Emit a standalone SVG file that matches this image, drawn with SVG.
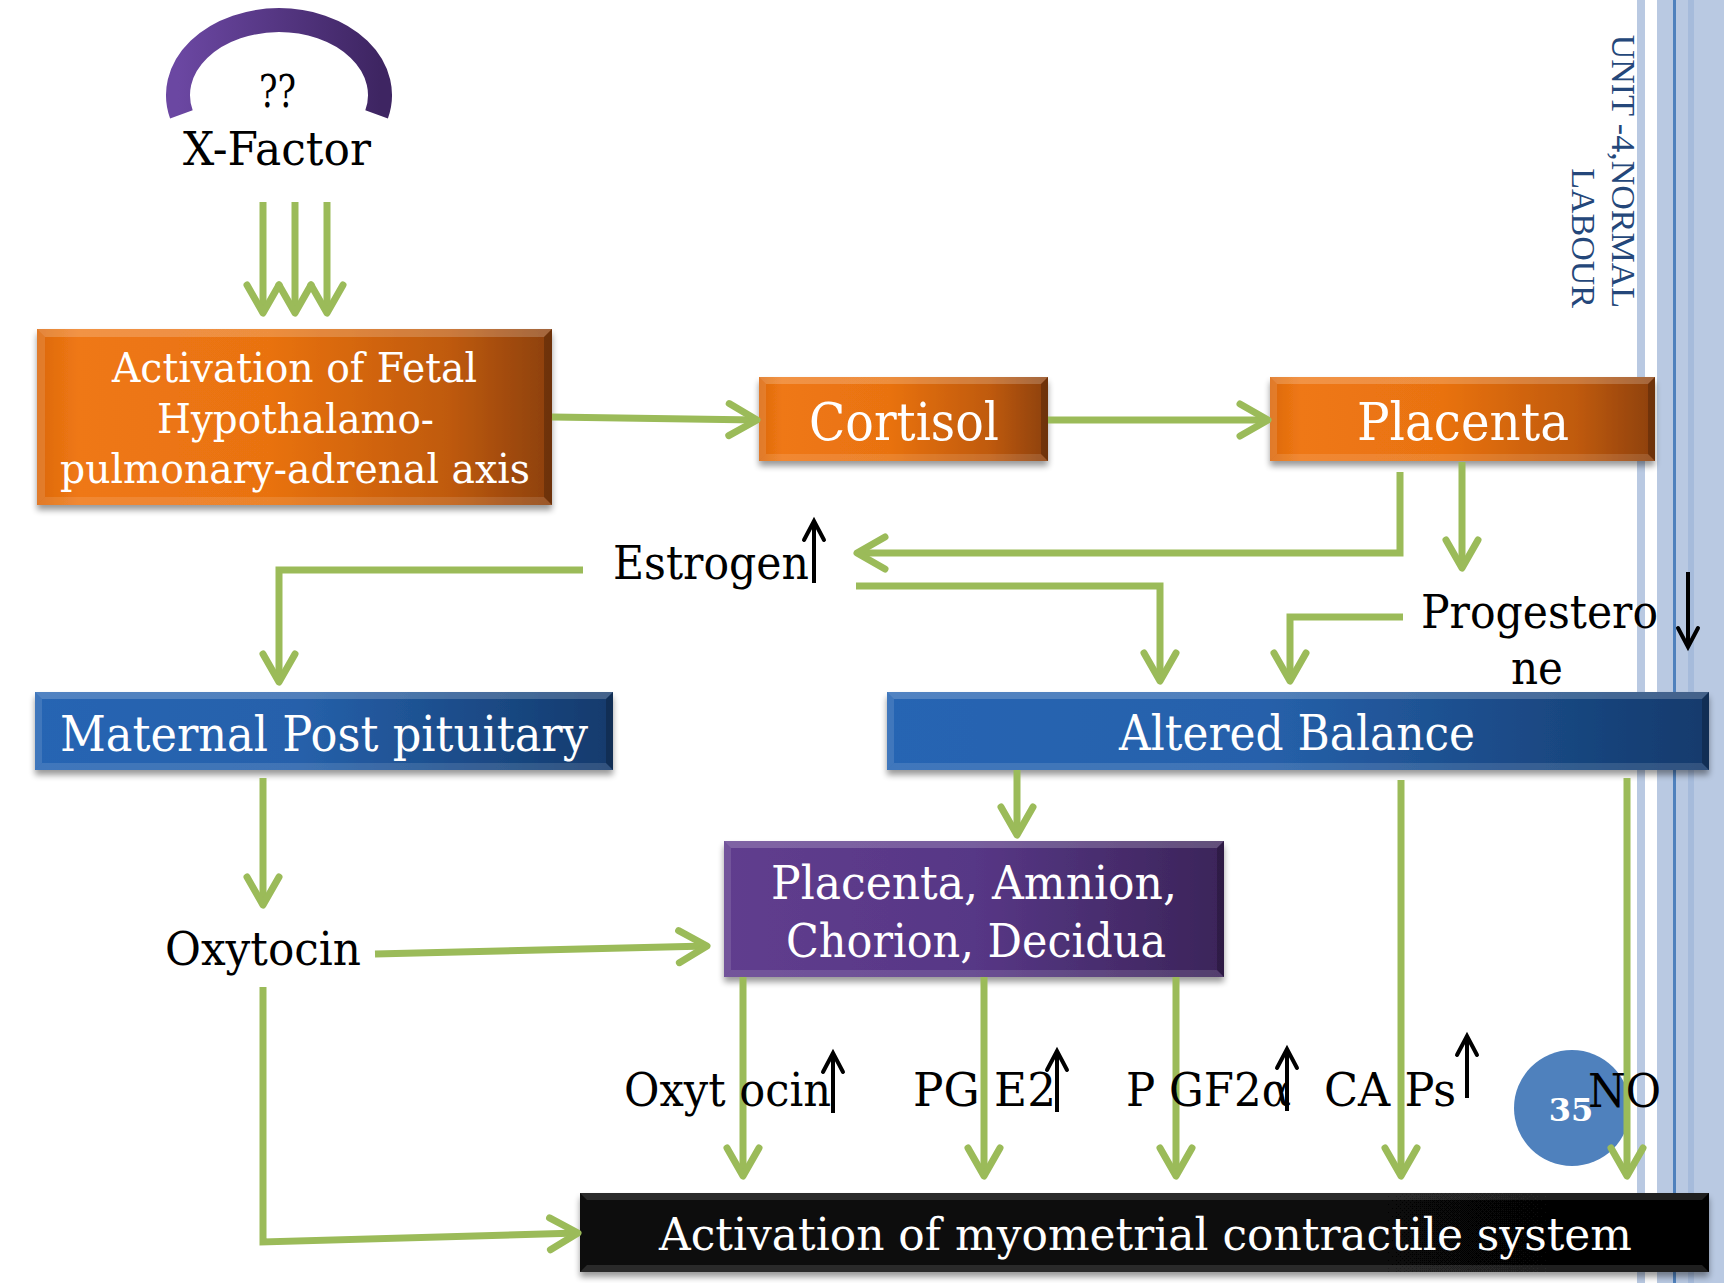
<svg xmlns="http://www.w3.org/2000/svg" width="1724" height="1283" viewBox="0 0 1724 1283">
  <defs>
    <style>
      .lbl { font-family: "DejaVu Serif", "Liberation Serif", serif; fill: #000; }
      .wht { font-family: "DejaVu Serif", "Liberation Serif", serif; fill: #fff; }
      .conn { fill: none; stroke: #9bbb59; stroke-width: 7; stroke-linecap: butt; stroke-linejoin: miter; marker-end: url(#chev); }
      .trend { fill: none; stroke: #000; stroke-width: 4; marker-end: url(#blk); }
      .hi { fill: #fff; opacity: 0.2; }
      .hi2 { fill: #fff; opacity: 0.12; }
      .sd { fill: #000; opacity: 0.22; }
      .stripe { fill: #b9c9e2; }
    </style>
    <linearGradient id="gOrange" x1="0" y1="0" x2="1" y2="0">
      <stop offset="0" stop-color="#dc680e"/>
      <stop offset="0.08" stop-color="#ef7813"/>
      <stop offset="0.45" stop-color="#e97211"/>
      <stop offset="0.8" stop-color="#bf5a0b"/>
      <stop offset="1" stop-color="#8c4007"/>
    </linearGradient>
    <linearGradient id="gBlue" x1="0" y1="0" x2="1" y2="0">
      <stop offset="0" stop-color="#2765b3"/>
      <stop offset="0.45" stop-color="#2661ab"/>
      <stop offset="1" stop-color="#133a6c"/>
    </linearGradient>
    <linearGradient id="gPurple" x1="0" y1="0" x2="1" y2="0">
      <stop offset="0" stop-color="#603d8e"/>
      <stop offset="0.5" stop-color="#573786"/>
      <stop offset="1" stop-color="#3b2459"/>
    </linearGradient>
    <linearGradient id="gBlack" x1="0" y1="0" x2="1" y2="0">
      <stop offset="0" stop-color="#0c0c0c"/>
      <stop offset="1" stop-color="#050505"/>
    </linearGradient>
    <linearGradient id="gArc" x1="0" y1="0" x2="1" y2="0">
      <stop offset="0" stop-color="#6b47a2"/>
      <stop offset="1" stop-color="#3e2562"/>
    </linearGradient>
    <filter id="shadow" x="-5%" y="-15%" width="110%" height="150%">
      <feGaussianBlur in="SourceAlpha" stdDeviation="3"/>
      <feOffset dy="5"/>
      <feComponentTransfer><feFuncA type="linear" slope="0.4"/></feComponentTransfer>
      <feMerge><feMergeNode/><feMergeNode in="SourceGraphic"/></feMerge>
    </filter>
    <marker id="chev" markerUnits="userSpaceOnUse" orient="auto" refX="0" refY="0" markerWidth="10" markerHeight="10" overflow="visible">
      <path d="M-28,-16 L0,0 L-28,16" fill="none" stroke="#9bbb59" stroke-width="7" stroke-linecap="round" stroke-linejoin="round"/>
    </marker>
    <marker id="blk" markerUnits="userSpaceOnUse" orient="auto" refX="0" refY="0" markerWidth="10" markerHeight="10" overflow="visible">
      <path d="M-19,-10 L0,0 L-19,10" fill="none" stroke="#000" stroke-width="4" stroke-linecap="round" stroke-linejoin="miter"/>
    </marker>
  </defs>

  <rect width="1724" height="1283" fill="#fff"/>

  <!-- side border stripes -->
  <g id="border">
    <rect class="stripe" x="1637" y="0" width="8" height="1283"/>
    <rect class="stripe" x="1657" y="0" width="67" height="1283"/>
    <rect x="1688" y="0" width="6" height="1283" fill="#a6bbdb"/>
    <rect x="1673" y="0" width="3" height="1283" fill="#4f81bd"/>
  </g>

  <!-- running title -->
  <g id="title" transform="translate(1612,0) rotate(90)" font-family="'Liberation Serif', serif" font-size="34" fill="#24477a" text-anchor="end">
    <text x="308" y="0">UNIT -4,NORMAL</text>
    <text x="308" y="40">LABOUR</text>
  </g>

  <!-- X-Factor -->
  <g id="xfactor">
    <path d="M181.4,114.4 A101,75 0 1 1 376.6,114.4" fill="none" stroke="url(#gArc)" stroke-width="24"/>
    <text class="lbl" x="259" y="107" font-size="44" textLength="37" lengthAdjust="spacingAndGlyphs">??</text>
    <text class="lbl" x="183" y="165" font-size="46" textLength="188" lengthAdjust="spacingAndGlyphs">X-Factor</text>
  </g>

  <!-- Fetal HPA axis -->
  <g id="fetal-axis">
    <rect x="37" y="329" width="515" height="176" fill="url(#gOrange)" filter="url(#shadow)"/>
    <polygon class="hi" points="37,329 552,329 544,337 45,337"/>
    <polygon class="hi2" points="37,505 45,497 544,497 552,505"/>
    <polygon class="hi2" points="37,329 45,337 45,497 37,505"/>
    <polygon class="sd" points="552,329 552,505 544,497 544,337"/>
    <text class="wht" x="112" y="382" font-size="41" textLength="365" lengthAdjust="spacingAndGlyphs">Activation of Fetal</text>
    <text class="wht" x="157" y="433" font-size="41" textLength="277" lengthAdjust="spacingAndGlyphs">Hypothalamo-</text>
    <text class="wht" x="60" y="483" font-size="41" textLength="470" lengthAdjust="spacingAndGlyphs">pulmonary-adrenal axis</text>
  </g>

  <!-- Cortisol -->
  <g id="cortisol">
    <rect x="759" y="377" width="289" height="84" fill="url(#gOrange)" filter="url(#shadow)"/>
    <polygon class="hi" points="759,377 1048,377 1041,384 766,384"/>
    <polygon class="hi2" points="759,461 766,454 1041,454 1048,461"/>
    <polygon class="hi2" points="759,377 766,384 766,454 759,461"/>
    <polygon class="sd" points="1048,377 1048,461 1041,454 1041,384"/>
    <text class="wht" x="809" y="440" font-size="52" textLength="190" lengthAdjust="spacingAndGlyphs">Cortisol</text>
  </g>

  <!-- Placenta -->
  <g id="placenta">
    <rect x="1270" y="377" width="385" height="84" fill="url(#gOrange)" filter="url(#shadow)"/>
    <polygon class="hi" points="1270,377 1655,377 1648,384 1277,384"/>
    <polygon class="hi2" points="1270,461 1277,454 1648,454 1655,461"/>
    <polygon class="hi2" points="1270,377 1277,384 1277,454 1270,461"/>
    <polygon class="sd" points="1655,377 1655,461 1648,454 1648,384"/>
    <text class="wht" x="1357" y="440" font-size="52" textLength="212" lengthAdjust="spacingAndGlyphs">Placenta</text>
  </g>

  <!-- Maternal post pituitary -->
  <g id="maternal-pituitary">
    <rect x="35" y="692" width="578" height="78" fill="url(#gBlue)" filter="url(#shadow)"/>
    <polygon class="hi" points="35,692 613,692 606,699 42,699"/>
    <polygon class="hi2" points="35,770 42,763 606,763 613,770"/>
    <polygon class="hi2" points="35,692 42,699 42,763 35,770"/>
    <polygon class="sd" points="613,692 613,770 606,763 606,699"/>
    <text class="wht" x="60" y="751" font-size="48" textLength="528" lengthAdjust="spacingAndGlyphs">Maternal Post pituitary</text>
  </g>

  <!-- Altered balance -->
  <g id="altered-balance">
    <rect x="887" y="692" width="822" height="78" fill="url(#gBlue)" filter="url(#shadow)"/>
    <polygon class="hi" points="887,692 1709,692 1702,699 894,699"/>
    <polygon class="hi2" points="887,770 894,763 1702,763 1709,770"/>
    <polygon class="hi2" points="887,692 894,699 894,763 887,770"/>
    <polygon class="sd" points="1709,692 1709,770 1702,763 1702,699"/>
    <text class="wht" x="1119" y="750" font-size="48" textLength="356" lengthAdjust="spacingAndGlyphs">Altered Balance</text>
  </g>

  <!-- Placenta, amnion, chorion, decidua -->
  <g id="fetal-membranes">
    <rect x="724" y="841" width="500" height="136" fill="url(#gPurple)" filter="url(#shadow)"/>
    <polygon class="hi" points="724,841 1224,841 1217,848 731,848"/>
    <polygon class="hi2" points="724,977 731,970 1217,970 1224,977"/>
    <polygon class="hi2" points="724,841 731,848 731,970 724,977"/>
    <polygon class="sd" points="1224,841 1224,977 1217,970 1217,848"/>
    <text class="wht" x="771" y="899" font-size="47" textLength="406" lengthAdjust="spacingAndGlyphs">Placenta, Amnion,</text>
    <text class="wht" x="786" y="957" font-size="47" textLength="380" lengthAdjust="spacingAndGlyphs">Chorion, Decidua</text>
  </g>

  <!-- Myometrial activation -->
  <g id="myometrium">
    <rect x="580" y="1193" width="1129" height="79" fill="url(#gBlack)" filter="url(#shadow)"/>
    <polygon class="hi2" points="580,1193 1709,1193 1702,1200 587,1200"/>
    <polygon class="hi2" points="580,1272 587,1265 1702,1265 1709,1272"/>
    <text class="wht" x="659" y="1250" font-size="45" textLength="973" lengthAdjust="spacingAndGlyphs">Activation of myometrial contractile system</text>
  </g>

  <!-- page number -->
  <g id="page-number">
    <circle cx="1572" cy="1108" r="58" fill="#4f81bd"/>
    <text x="1571" y="1121" font-family="'DejaVu Serif', serif" font-weight="bold" font-size="32" fill="#fff" text-anchor="middle">35</text>
  </g>

  <!-- connectors -->
  <g id="connectors">
    <path class="conn" d="M263,202 V313"/>
    <path class="conn" d="M295,202 V313"/>
    <path class="conn" d="M327,202 V313"/>
    <path class="conn" d="M552,417 L757,420"/>
    <path class="conn" d="M1048,420 H1268"/>
    <path class="conn" d="M1400,472 V553 H857"/>
    <path class="conn" d="M1462,462 V568"/>
    <path class="conn" d="M583,570 H279 V682"/>
    <path class="conn" d="M856,586 H1160 V681"/>
    <path class="conn" d="M1403,617 H1290 V681"/>
    <path class="conn" d="M1017,770 V835"/>
    <path class="conn" d="M263,778 V905"/>
    <path class="conn" d="M375,954 L707,946"/>
    <path class="conn" d="M263,987 V1242 L578,1233"/>
    <path class="conn" d="M743,977 V1176"/>
    <path class="conn" d="M984,977 V1176"/>
    <path class="conn" d="M1176,977 V1176"/>
    <path class="conn" d="M1401,780 V1176"/>
    <path class="conn" d="M1627,778 V1176"/>
  </g>

  <!-- hormone labels with trend arrows -->
  <g id="hormones">
    <text class="lbl" x="613" y="579" font-size="47" textLength="196" lengthAdjust="spacingAndGlyphs">Estrogen</text>
    <path class="trend" d="M814,583 V521"/>
    <text class="lbl" x="1421" y="628" font-size="47" textLength="237" lengthAdjust="spacingAndGlyphs">Progestero</text>
    <text class="lbl" x="1511" y="684" font-size="47" textLength="52" lengthAdjust="spacingAndGlyphs">ne</text>
    <path class="trend" d="M1688,572 V647"/>
    <text class="lbl" x="165" y="965" font-size="46" textLength="196" lengthAdjust="spacingAndGlyphs">Oxytocin</text>
  </g>

  <g id="mediators">
    <text class="lbl" x="624" y="1106" font-size="47" textLength="207" lengthAdjust="spacingAndGlyphs">Oxyt ocin</text>
    <path class="trend" d="M833,1113 V1053"/>
    <text class="lbl" x="913" y="1106" font-size="47" textLength="143" lengthAdjust="spacingAndGlyphs">PG E2</text>
    <path class="trend" d="M1057,1112 V1051"/>
    <text class="lbl" x="1126" y="1106" font-size="47" textLength="165" lengthAdjust="spacingAndGlyphs">P GF2α</text>
    <path class="trend" d="M1287,1111 V1049"/>
    <text class="lbl" x="1324" y="1106" font-size="47" textLength="132" lengthAdjust="spacingAndGlyphs">CA Ps</text>
    <path class="trend" d="M1467,1098 V1036"/>
    <text class="lbl" x="1588" y="1107" font-size="47" textLength="73" lengthAdjust="spacingAndGlyphs">NO</text>
  </g>
</svg>
